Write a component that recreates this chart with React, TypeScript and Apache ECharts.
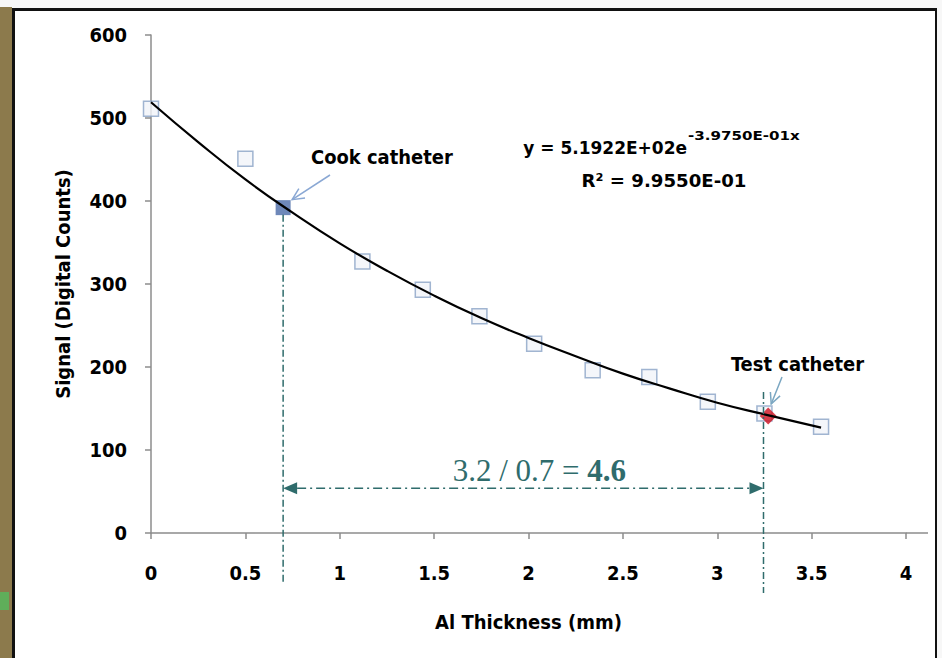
import React, { useEffect, useRef } from "react";
import * as echarts from "echarts";

// ---- data ----
const thicknessMm = [0, 0.5, 1.12, 1.44, 1.74, 2.03, 2.34, 2.64, 2.95, 3.25, 3.55];
const signalCounts = [511, 451, 327, 293, 261, 228, 196, 188, 158, 144, 128];
const cookCatheter = [0.7, 392];
const testCatheter = [3.27, 141];
const testLineX = 3.245;
const ratioArrowY = 54;
const trendX = [0, 0.25, 0.5, 0.75, 1, 1.25, 1.5, 1.75, 2, 2.25, 2.5, 2.75, 3, 3.25, 3.55];
const trendY = [519, 471, 426, 386, 349, 316, 286, 259, 235, 213, 192, 174, 157, 143, 127];
const equationMain = "y = 5.1922E+02e";
const equationExp = "-3.9750E-01x";
const rSquared = "R\u00b2 = 9.9550E-01";
const ratioText = "3.2 / 0.7 = ";
const ratioValue = "4.6";

const FONT = "'DejaVu Sans Condensed', 'Liberation Sans Narrow', 'DejaVu Sans', sans-serif";
const TEAL = "#2f6c6c";

function vArrow(ex: number, ey: number, sx: number, sy: number, len: number, color: string) {
  const dx = sx - ex;
  const dy = sy - ey;
  const d = Math.hypot(dx, dy) || 1;
  const ux = dx / d;
  const uy = dy / d;
  const a = Math.PI / 7;
  const r = (ang: number) => [
    ex + len * (ux * Math.cos(ang) - uy * Math.sin(ang)),
    ey + len * (ux * Math.sin(ang) + uy * Math.cos(ang)),
  ];
  return [
    { type: "line", shape: { x1: sx, y1: sy, x2: ex, y2: ey }, style: { stroke: color, lineWidth: 1.5 }, z: 20 },
    { type: "polyline", shape: { points: [r(a), [ex, ey], r(-a)] }, style: { stroke: color, lineWidth: 1.5, fill: null }, z: 20 },
  ];
}

function label(text: string, x: number, y: number, align: string, size: number, sx = 1) {
  return {
    type: "text",
    x,
    y,
    scaleX: sx,
    style: { text, align, verticalAlign: "middle", fontFamily: FONT, fontWeight: "bold", fontSize: size, fill: "#000" },
    z: 11,
  };
}

export default function App() {
  const ref = useRef<HTMLDivElement>(null);
  useEffect(() => {
    document.body.style.margin = "0";
    if (!ref.current) return;
    const chart = echarts.init(ref.current, undefined, { renderer: "svg" });
    const frame = [
      { type: "rect", shape: { x: 0, y: 0, width: 942, height: 658 }, style: { fill: "#f7f7f7" }, z: -10 },
      { type: "rect", shape: { x: 0, y: 7, width: 12, height: 651 }, style: { fill: "#8c7a4c" }, z: -9 },
      { type: "rect", shape: { x: 0, y: 592, width: 9, height: 18 }, style: { fill: "#5fae5a" }, z: -8 },
      { type: "rect", shape: { x: 12, y: 8, width: 925, height: 650 }, style: { fill: "#111" }, z: -8 },
      { type: "rect", shape: { x: 15, y: 11, width: 920, height: 647 }, style: { fill: "#ffffff" }, z: -7 },
    ];
    const option: any = {
      animation: false,
      backgroundColor: "transparent",
      grid: { left: 151, right: 36, top: 35, bottom: 125, containLabel: false },
      xAxis: {
        type: "value",
        min: 0,
        max: 4,
        interval: 0.5,
        name: "Al Thickness (mm)",
        nameLocation: "middle",
        nameGap: 79,
        nameTextStyle: { fontFamily: FONT, fontWeight: "bold", fontSize: 20, color: "#000" },
        axisLine: { lineStyle: { color: "#8c8c8c", width: 1.5 } },
        axisTick: { show: true, length: 6, lineStyle: { color: "#8c8c8c", width: 1.5 } },
        axisLabel: { fontFamily: FONT, fontWeight: "bold", fontSize: 20, color: "#000", margin: 30 },
        splitLine: { show: false },
      },
      yAxis: {
        type: "value",
        min: 0,
        max: 600,
        interval: 100,
        name: "Signal (Digital Counts)",
        nameLocation: "middle",
        nameGap: 78,
        nameTextStyle: { fontFamily: FONT, fontWeight: "bold", fontSize: 20, color: "#000" },
        axisLine: { show: true, lineStyle: { color: "#8c8c8c", width: 1.5 } },
        axisTick: { show: true, length: 6, lineStyle: { color: "#8c8c8c", width: 1.5 } },
        axisLabel: { fontFamily: FONT, fontWeight: "bold", fontSize: 20, color: "#000", margin: 24 },
        splitLine: { show: false },
      },
      series: [
        {
          name: "Measured",
          type: "scatter",
          data: thicknessMm.map((x, i) => [x, signalCounts[i]]),
          symbol: "rect",
          symbolSize: 15,
          itemStyle: { color: "#f1f4f9", borderColor: "#8aa2c6", borderWidth: 1.5 },
          z: 3,
        },
        {
          name: "Cook catheter",
          type: "scatter",
          data: [cookCatheter],
          symbol: "rect",
          symbolSize: 15,
          itemStyle: { color: "#4a6aa8" },
          z: 4,
        },
        {
          name: "Test catheter",
          type: "scatter",
          data: [testCatheter],
          symbol: "diamond",
          symbolSize: 17,
          itemStyle: { color: "#d0101e" },
          z: 4,
        },
        {
          name: "Trend",
          type: "line",
          data: trendX.map((x, i) => [x, trendY[i]]),
          smooth: true,
          showSymbol: false,
          lineStyle: { color: "#000", width: 2.2 },
          z: 5,
        },
      ],
      graphic: frame,
    };
    chart.setOption(option);

    const p = (x: number, y: number) => chart.convertToPixel({ gridIndex: 0 }, [x, y]) as number[];
    const axisY = p(0, 0)[1];
    const x4 = p(4, 0)[0];
    const cook = p(cookCatheter[0], cookCatheter[1]);
    const test = p(testCatheter[0], testCatheter[1]);
    const tl = p(testLineX, 0)[0];
    const ay = p(0, ratioArrowY)[1];
    const dash = [7, 3, 2, 3];
    const ah = 14;
    const aw = 6;
    const g: any[] = [
      ...frame,
      { type: "line", shape: { x1: x4, y1: axisY, x2: x4 + 22, y2: axisY }, style: { stroke: "#8c8c8c", lineWidth: 1.5 }, z: 1 },
      { type: "line", shape: { x1: cook[0], y1: cook[1] + 7, x2: cook[0], y2: axisY + 50 }, style: { stroke: TEAL, lineWidth: 1.5, lineDash: dash }, z: 10 },
      { type: "line", shape: { x1: tl, y1: test[1] - 24, x2: tl, y2: axisY + 60 }, style: { stroke: TEAL, lineWidth: 1.5, lineDash: dash }, z: 10 },
      { type: "line", shape: { x1: cook[0] + ah, y1: ay, x2: tl - ah, y2: ay }, style: { stroke: TEAL, lineWidth: 1.5, lineDash: [9, 4, 2, 4] }, z: 10 },
      { type: "polygon", shape: { points: [[cook[0], ay], [cook[0] + ah, ay - aw], [cook[0] + ah, ay + aw]] }, style: { fill: TEAL }, z: 10 },
      { type: "polygon", shape: { points: [[tl, ay], [tl - ah, ay - aw], [tl - ah, ay + aw]] }, style: { fill: TEAL }, z: 10 },
      {
        type: "text",
        x: (cook[0] + tl) / 2 + 16,
        y: ay - 18,
        style: {
          text: "{a|" + ratioText + "}{b|" + ratioValue + "}",
          align: "center",
          verticalAlign: "middle",
          rich: {
            a: { fontFamily: "'Liberation Serif', 'DejaVu Serif', serif", fontSize: 31, fill: TEAL },
            b: { fontFamily: "'Liberation Serif', 'DejaVu Serif', serif", fontSize: 31, fontWeight: "bold", fill: TEAL },
          },
        },
        z: 11,
      },
      label(equationMain, 687, 148, "right", 18, 1.05),
      label(equationExp, 688, 135, "left", 12, 1.4),
      label(rSquared, 664, 181, "center", 18, 1.12),
      label("Cook catheter", 311, 158, "left", 19, 1.05),
      label("Test catheter", 731, 365, "left", 19, 1.05),
      ...vArrow(cook[0] + 9, cook[1] - 8, 330, 175, 13, "#8aa8d4"),
      ...vArrow(test[0] + 3, test[1] - 12, 782, 377, 12, "#7ba7c2"),
    ];
    chart.setOption({ graphic: g }, { replaceMerge: ["graphic"] });
    return () => chart.dispose();
  }, []);
  return <div ref={ref} style={{ width: 942, height: 658 }} />;
}
